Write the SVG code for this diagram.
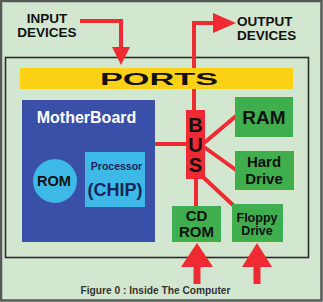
<svg xmlns="http://www.w3.org/2000/svg" width="323" height="302" viewBox="0 0 323 302">
<defs>
<style>
.t{font-family:"Liberation Sans",Arial,sans-serif;font-weight:bold;text-anchor:middle;fill:#111}
.w{stroke:#ee2a32;stroke-width:4;fill:none}
.green{fill:#3fae4c}
.lb{fill:#3db9e8}
</style>
</defs>
<rect x="1" y="1" width="320.5" height="299.5" fill="#d3e7d0" stroke="#555a55" stroke-width="2.5"/>
<rect x="5.5" y="57.5" width="303" height="200" fill="none" stroke="#2a2e2a" stroke-width="1.6"/>
<g id="input-devices">
<text class="t" x="47" y="22.5" font-size="13.5">INPUT</text>
<text class="t" x="47" y="37" font-size="13.5">DEVICES</text>
</g>
<g id="output-devices">
<text class="t" x="237" y="25.5" font-size="13.5" style="text-anchor:start">OUTPUT</text>
<text class="t" x="237" y="40" font-size="13.5" style="text-anchor:start">DEVICES</text>
</g>
<g id="connectors">
<polyline class="w" points="80,21 121,21 121,50"/>
<polygon points="112,47 130,47 121,65" fill="#ee2a32"/>
<polyline class="w" points="194,110 194,23 216,23"/>
<polygon points="213,13 213,33 236,23" fill="#ee2a32"/>
<line class="w" x1="155" y1="144" x2="187" y2="144"/>
<line class="w" x1="204" y1="143" x2="236" y2="116"/>
<line class="w" x1="204" y1="147" x2="236" y2="170"/>
<line class="w" x1="196" y1="178" x2="196" y2="207"/>
<line class="w" x1="203" y1="177" x2="234" y2="206"/>
<polygon points="181,267 213,267 197,243" fill="#ee2a32"/>
<rect x="193.5" y="266" width="7" height="18" fill="#ee2a32"/>
<polygon points="242,267 272,267 257,243" fill="#ee2a32"/>
<rect x="253.5" y="266" width="7" height="18" fill="#ee2a32"/>
</g>
<g id="ports">
<rect x="20" y="68" width="273" height="21" fill="#fcd116"/>
<text class="t" x="159" y="85" font-size="16" textLength="118" lengthAdjust="spacingAndGlyphs">PORTS</text>
</g>
<g id="motherboard">
<rect x="22" y="100" width="133" height="142" fill="#3a50a8"/>
<text class="t" x="86.5" y="123" font-size="16" style="fill:#fff">MotherBoard</text>
</g>
<g id="rom">
<circle class="lb" cx="55" cy="181" r="22"/>
<text class="t" x="54" y="186" font-size="14.5">ROM</text>
</g>
<g id="processor">
<rect class="lb" x="85" y="152" width="60" height="55"/>
<text class="t" x="116.5" y="170" font-size="10.5" style="fill:#1a2456">Processor</text>
<text class="t" x="115" y="196" font-size="18" style="fill:#1a2456">(CHIP)</text>
</g>
<g id="bus">
<rect x="186" y="110" width="19" height="69" fill="#ee2a32"/>
<text class="t" x="195.5" y="132" font-size="20">B</text>
<text class="t" x="195.5" y="152" font-size="20">U</text>
<text class="t" x="195.5" y="172" font-size="20">S</text>
</g>
<g id="ram">
<rect class="green" x="235" y="97" width="58" height="40"/>
<text class="t" x="264" y="124" font-size="19">RAM</text>
</g>
<g id="hard-drive">
<rect class="green" x="235" y="151" width="59" height="39"/>
<text class="t" x="264" y="167" font-size="15">Hard</text>
<text class="t" x="264" y="184" font-size="15">Drive</text>
</g>
<g id="cd-rom">
<rect class="green" x="172" y="206" width="49" height="36"/>
<text class="t" x="196.5" y="221" font-size="15">CD</text>
<text class="t" x="196.5" y="237" font-size="15">ROM</text>
</g>
<g id="floppy-drive">
<rect class="green" x="232" y="204" width="51" height="38"/>
<text class="t" x="257" y="222" font-size="12.5">Floppy</text>
<text class="t" x="257" y="235" font-size="12.5">Drive</text>
</g>
<g id="caption">
<text class="t" x="155.5" y="294" font-size="10.2" style="fill:#333">Figure 0 : Inside The Computer</text>
</g>
</svg>
